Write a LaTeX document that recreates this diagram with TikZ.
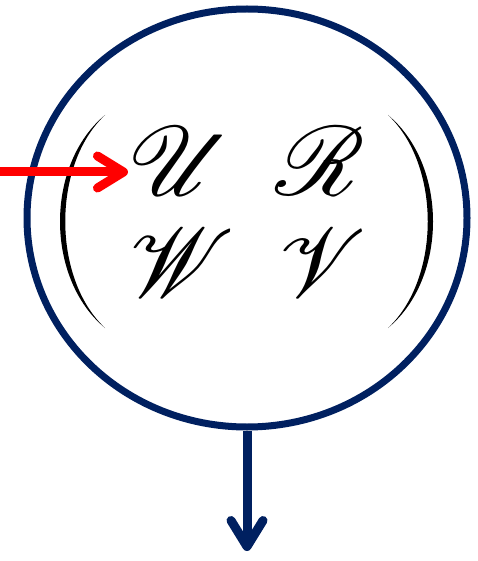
\documentclass[tikz,border=0pt]{standalone}
\usepackage{mathrsfs}
\usetikzlibrary{arrows.meta,positioning,shapes.geometric}
\definecolor{navy}{RGB}{0,32,96}
\tikzset{
  barb/.style={line width=9pt,-{Straight Barb[round,length=26pt,width=32pt,line width=9pt]}},
  glyph/.style={inner sep=0pt}
}
\newcommand{\scr}[1]{\scalebox{9.8}{$\mathscr{#1}$}}

\begin{document}
\begin{tikzpicture}[x=1pt,y=-1pt]
  \useasboundingbox (0,0) rectangle (477,561);
  \node[draw=navy,line width=7pt,ellipse,minimum width=440pt,minimum height=418pt] (cell) at (247,218) {};
  % matrix entries
  \node[glyph] (u) at (180,161) {\scr{U}};
  \node[glyph] (r) at (320,161) {\scr{R}};
  \node[glyph] (w) at (182,263) {\scr{W}};
  \node[glyph] (v) at (322,263) {\scr{V}};
  % parentheses
  \fill (105,115) .. controls (45,165) and (45,278) .. (105,328)
    .. controls (52,278) and (52,165) .. cycle;
  \fill (388,115) .. controls (448,165) and (448,278) .. (388,328)
    .. controls (441,278) and (441,165) .. cycle;
  \coordinate (src) at (0,172);
  \coordinate (sink) at (247,551);
  \draw[barb,red] (src) -- (src -| u.west);
  \draw[barb,navy] (cell.south) -- (sink);
\end{tikzpicture}
\end{document}
